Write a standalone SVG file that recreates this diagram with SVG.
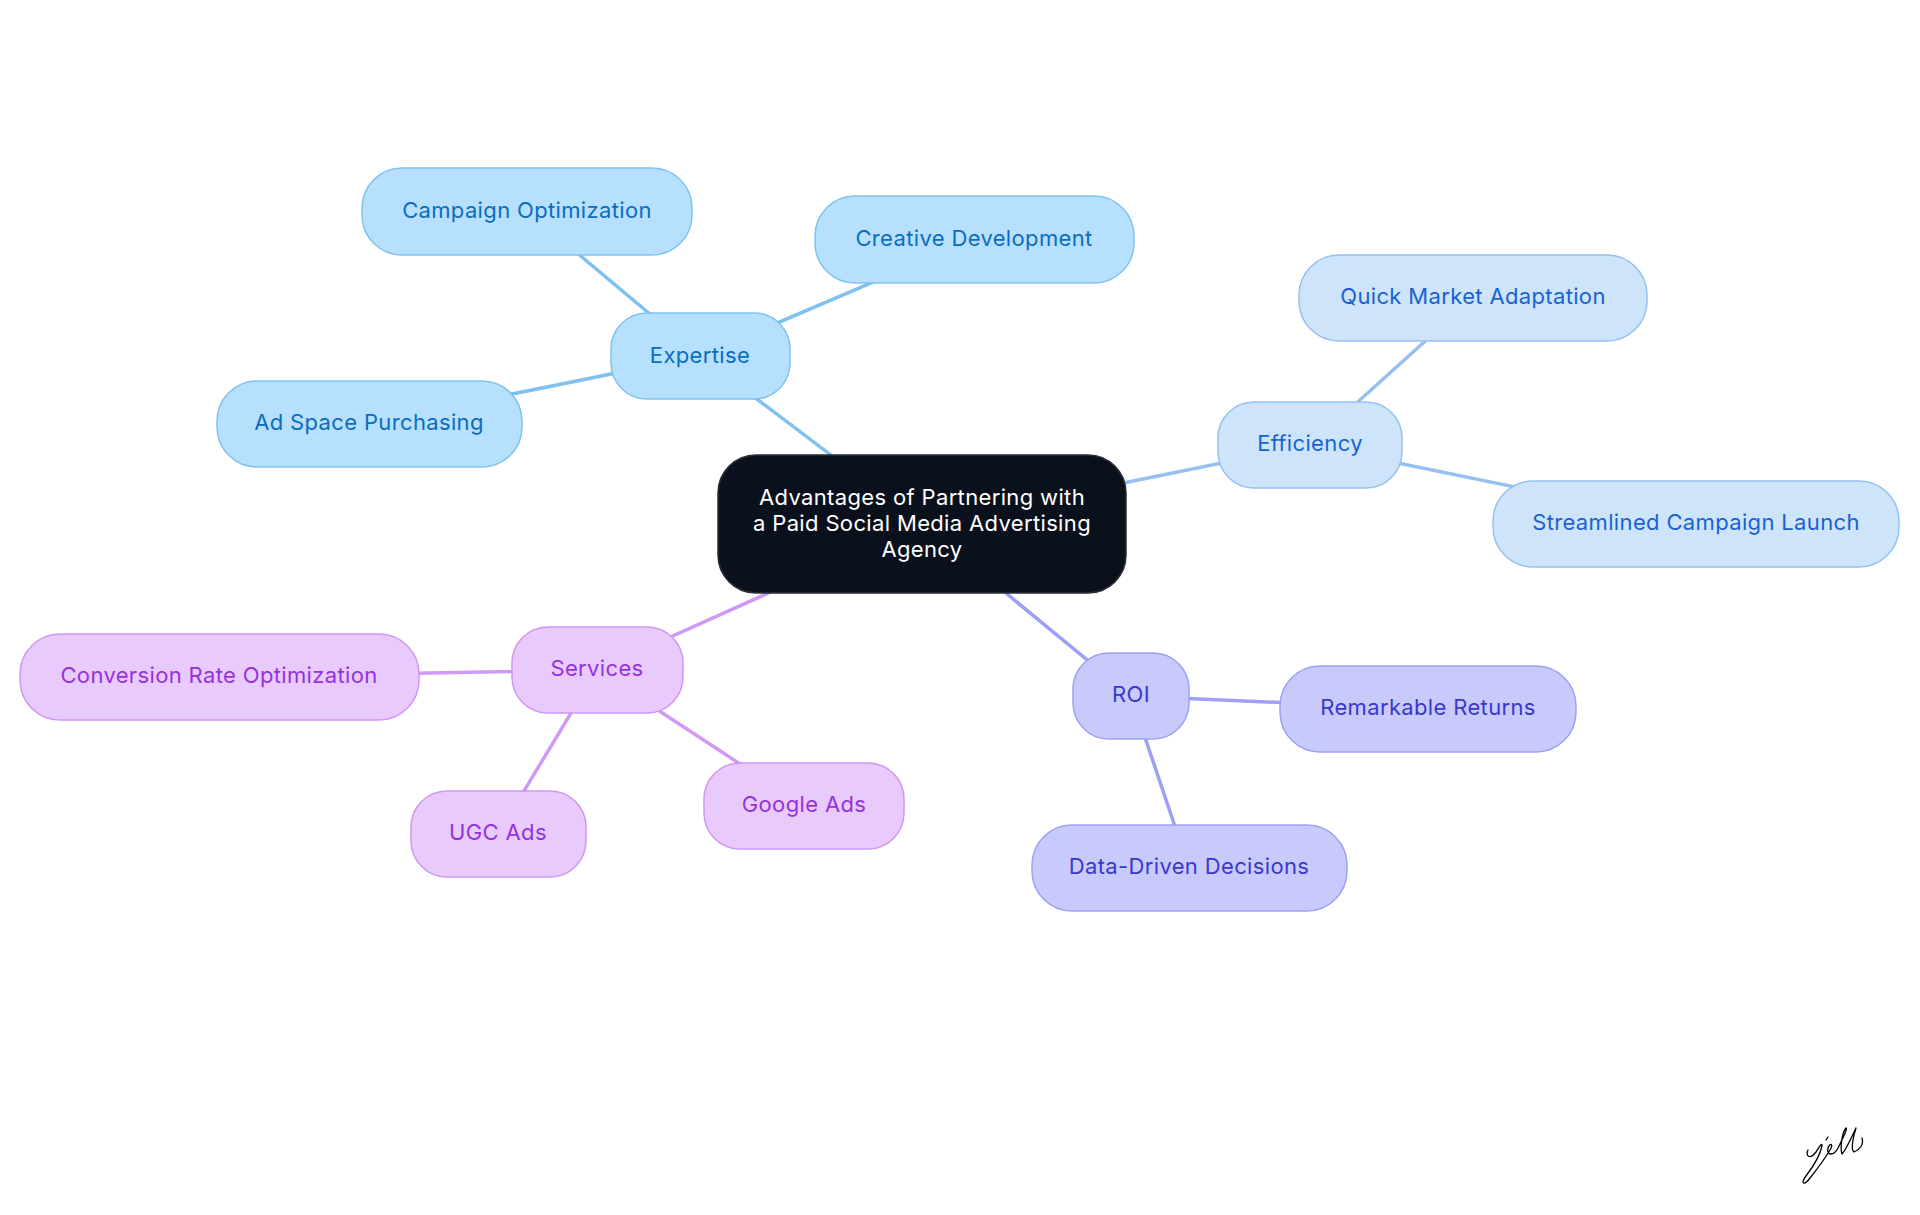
<svg xmlns="http://www.w3.org/2000/svg" width="1920" height="1215" viewBox="0 0 1920 1215">
<style>
text{font-family:Inter,"Noto Sans","Liberation Sans",sans-serif;font-size:22px;letter-spacing:0.35px;text-anchor:middle;dominant-baseline:central}
.c1 rect{fill:#b6e0fd;stroke:#7fc2ef;stroke-width:1.5}
.c1 text{fill:#0b6dc0}
.c2 rect{fill:#cde4fb;stroke:#96c0f0;stroke-width:1.5}
.c2 text{fill:#1a62d2}
.c3 rect{fill:#c8cafc;stroke:#9da0f3;stroke-width:1.5}
.c3 text{fill:#3a38cc}
.c4 rect{fill:#e8cafd;stroke:#cf96f2;stroke-width:1.5}
.c4 text{fill:#9333de}
.l1{stroke:#7fc2ef}.l2{stroke:#96c0f0}.l3{stroke:#9da0f3}.l4{stroke:#cf9af5}
#links line{stroke-width:3.5;stroke-linecap:round}
</style>
<rect width="1920" height="1215" fill="#ffffff"/>
<g id="links">
<line class="l1" x1="922" y1="524" x2="700" y2="356"/>
<line class="l1" x1="700" y1="356" x2="527" y2="211"/>
<line class="l1" x1="700" y1="356" x2="974" y2="239"/>
<line class="l1" x1="700" y1="356" x2="369" y2="423"/>
<line class="l2" x1="922" y1="524" x2="1310" y2="445"/>
<line class="l2" x1="1310" y1="445" x2="1473" y2="298"/>
<line class="l2" x1="1310" y1="445" x2="1696" y2="524"/>
<line class="l3" x1="922" y1="524" x2="1131" y2="696"/>
<line class="l3" x1="1131" y1="696" x2="1428" y2="709"/>
<line class="l3" x1="1131" y1="696" x2="1189" y2="868"/>
<line class="l4" x1="922" y1="524" x2="597" y2="670"/>
<line class="l4" x1="597" y1="670" x2="219" y2="677"/>
<line class="l4" x1="597" y1="670" x2="498" y2="834"/>
<line class="l4" x1="597" y1="670" x2="804" y2="806"/>
</g>
<g id="root">
<rect x="718" y="455" width="408" height="138" rx="38" fill="#0b111c" stroke="#2a2f38" stroke-width="1.5"/>
<text fill="#ffffff" x="922" y="497">Advantages of Partnering with</text>
<text fill="#ffffff" x="922" y="523">a Paid Social Media Advertising</text>
<text fill="#ffffff" x="922" y="549">Agency</text>
</g>
<g id="expertise" class="c1"><rect x="611" y="313" width="179" height="86" rx="36"/><text x="700" y="355">Expertise</text></g>
<g id="campaign-optimization" class="c1"><rect x="362" y="168" width="330" height="87" rx="40"/><text x="527" y="210">Campaign Optimization</text></g>
<g id="creative-development" class="c1"><rect x="815" y="196" width="319" height="87" rx="40"/><text x="974" y="238">Creative Development</text></g>
<g id="ad-space-purchasing" class="c1"><rect x="217" y="381" width="305" height="86" rx="40"/><text x="369" y="422">Ad Space Purchasing</text></g>
<g id="efficiency" class="c2"><rect x="1218" y="402" width="184" height="86" rx="36"/><text x="1310" y="443">Efficiency</text></g>
<g id="quick-market-adaptation" class="c2"><rect x="1299" y="255" width="348" height="86" rx="40"/><text x="1473" y="296">Quick Market Adaptation</text></g>
<g id="streamlined-campaign-launch" class="c2"><rect x="1493" y="481" width="406" height="86" rx="40"/><text x="1696" y="522">Streamlined Campaign Launch</text></g>
<g id="roi" class="c3"><rect x="1073" y="653" width="116" height="86" rx="36"/><text x="1131" y="694">ROI</text></g>
<g id="remarkable-returns" class="c3"><rect x="1280" y="666" width="296" height="86" rx="40"/><text x="1428" y="707">Remarkable Returns</text></g>
<g id="data-driven-decisions" class="c3"><rect x="1032" y="825" width="315" height="86" rx="40"/><text x="1189" y="866">Data-Driven Decisions</text></g>
<g id="services" class="c4"><rect x="512" y="627" width="171" height="86" rx="36"/><text x="597" y="668">Services</text></g>
<g id="conversion-rate-optimization" class="c4"><rect x="20" y="634" width="399" height="86" rx="40"/><text x="219" y="675">Conversion Rate Optimization</text></g>
<g id="ugc-ads" class="c4"><rect x="411" y="791" width="175" height="86" rx="36"/><text x="498" y="832">UGC Ads</text></g>
<g id="google-ads" class="c4"><rect x="704" y="763" width="200" height="86" rx="36"/><text x="804" y="804">Google Ads</text></g>
<g id="signature" fill="none" stroke="#000000" stroke-width="1.3" stroke-linecap="round" stroke-linejoin="round">
<path d="M1808 1150 C1805 1156 1810 1160 1816 1152 C1820 1146 1822 1142 1822 1146 C1820 1156 1812 1168 1806 1176 C1800 1184 1804 1186 1810 1178 C1818 1168 1824 1160 1830 1150 C1834 1144 1830 1142 1828 1148 C1826 1156 1834 1156 1838 1148 C1842 1140 1848 1128 1846 1128 C1842 1132 1840 1148 1842 1154 C1846 1150 1852 1136 1856 1128 C1854 1134 1850 1150 1854 1152 C1860 1150 1864 1144 1862 1138"/>
<path d="M1826 1140 L1828 1137"/>
</g>
</svg>
